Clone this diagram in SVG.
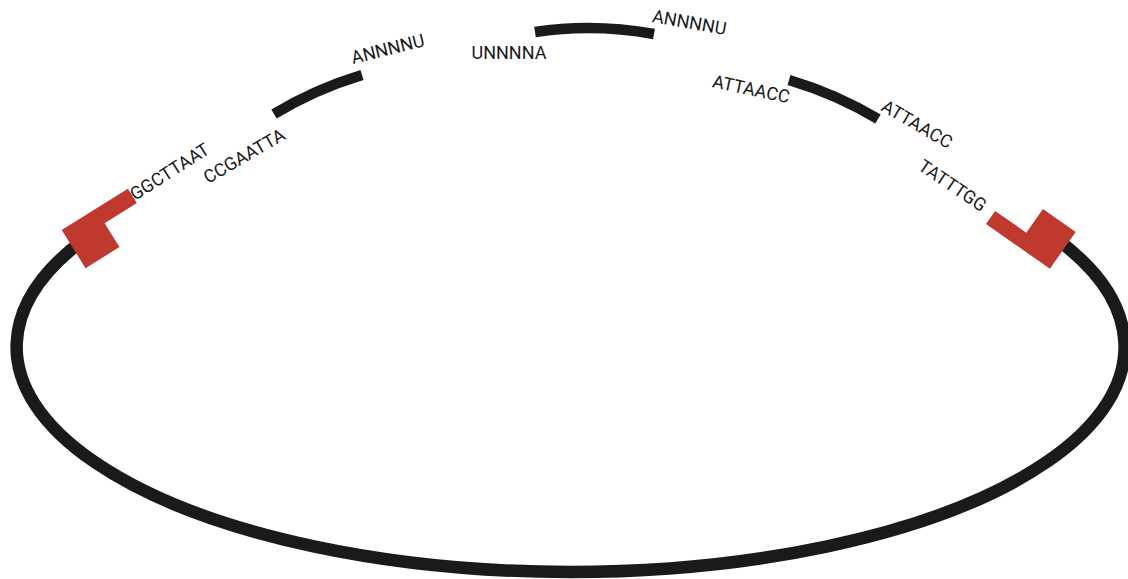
<svg xmlns="http://www.w3.org/2000/svg" width="1128" height="579" viewBox="0 0 1128 579">
<style>
.bb{fill:none;stroke:#1a1a1a;stroke-width:12.5;stroke-linecap:butt}
.seg{fill:none;stroke:#1a1a1a;stroke-width:10.5;stroke-linecap:butt}
.site{fill:#c0392f;stroke:none}
.lbl{font-family:Roboto,"Liberation Sans",sans-serif;font-size:18px;fill:#1a1a1a}
</style>
<rect width="1128" height="579" fill="#ffffff"/>
<g id="connectors">
<path id="backbone" class="bb" d="M 83.2 240 A 554 225 0 1 0 1058 240"/>
<path id="insert-1" class="seg" d="M 274 114 Q 315.6 89 362 75"/>
<path id="insert-2" class="seg" d="M 535 32 Q 593.5 23 654 34"/>
<path id="insert-3" class="seg" d="M 789 80 Q 836 94 878 119"/>
</g>
<g id="site-left">
<polygon class="site" transform="translate(61.7 230) rotate(-32)" points="0,0 0,45 40,45 40,17 78,17 78,0"/>
</g>
<g id="site-right">
<polygon class="site" transform="translate(986 224) rotate(35)" points="0,0 0,-16 38,-16 38,-45 78,-45 78,0"/>
</g>
<g id="labels">
<text class="lbl" transform="translate(135 201) rotate(-32.5)">GGCTTAAT</text>
<text class="lbl" transform="translate(208 184) rotate(-30)">CCGAATTA</text>
<text class="lbl" transform="translate(353 64) rotate(-14)">ANNNNU</text>
<text class="lbl" transform="translate(471.5 59)">UNNNNA</text>
<text class="lbl" transform="translate(651.5 22) rotate(10)">ANNNNU</text>
<text class="lbl" transform="translate(711.5 87) rotate(12)">ATTAACC</text>
<text class="lbl" transform="translate(880 110) rotate(30)">ATTAACC</text>
<text class="lbl" transform="translate(917 169) rotate(34)">TATTTGG</text>
</g>
</svg>
